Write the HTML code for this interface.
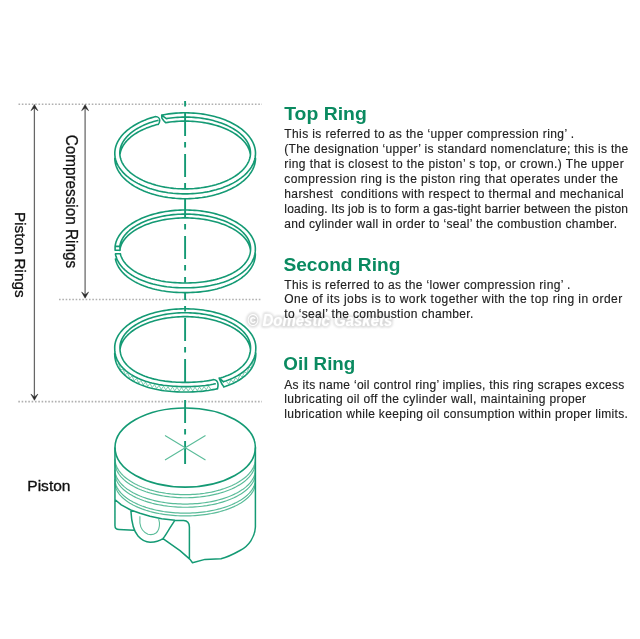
<!DOCTYPE html>
<html><head><meta charset="utf-8"><style>
html,body{margin:0;padding:0;background:#fff;}
svg{display:block;will-change:transform;}
text{font-family:"Liberation Sans",sans-serif;}
</style></head><body>
<svg width="640" height="639" viewBox="0 0 640 639">
<defs><filter id="wmblur" x="-10%" y="-30%" width="120%" height="160%"><feGaussianBlur stdDeviation="0.8"/></filter></defs>
<rect width="640" height="639" fill="#fff"/>
<line x1="18.5" y1="104.2" x2="262" y2="104.2" stroke="#b0b0b0" stroke-width="1.6" stroke-dasharray="1.6 1.73"/>
<line x1="59.0" y1="299.5" x2="262" y2="299.5" stroke="#b0b0b0" stroke-width="1.6" stroke-dasharray="1.6 1.73"/>
<line x1="18.3" y1="401.6" x2="262" y2="401.6" stroke="#b0b0b0" stroke-width="1.6" stroke-dasharray="1.6 1.73"/>
<line x1="34.4" y1="107.5" x2="34.4" y2="397.3" stroke="#666" stroke-width="1.25"/>
<path d="M34.4,104.5 L30.9,110.7 L34.4,107.9 L37.9,110.7 Z" fill="#2a2a2a" stroke="#2a2a2a" stroke-width="0.5" stroke-linejoin="round"/>
<path d="M34.4,400.3 L30.9,394.1 L34.4,396.90000000000003 L37.9,394.1 Z" fill="#2a2a2a" stroke="#2a2a2a" stroke-width="0.5" stroke-linejoin="round"/>
<line x1="85.1" y1="107.5" x2="85.1" y2="295.2" stroke="#666" stroke-width="1.25"/>
<path d="M85.1,104.5 L81.6,110.7 L85.1,107.9 L88.6,110.7 Z" fill="#2a2a2a" stroke="#2a2a2a" stroke-width="0.5" stroke-linejoin="round"/>
<path d="M85.1,298.2 L81.6,292.0 L85.1,294.8 L88.6,292.0 Z" fill="#2a2a2a" stroke="#2a2a2a" stroke-width="0.5" stroke-linejoin="round"/>
<path d="M185.15,193.90 L182.68,193.87 L180.21,193.80 L177.75,193.67 L175.29,193.50 L172.85,193.28 L170.42,193.00 L168.01,192.68 L165.63,192.31 L163.26,191.89 L160.93,191.42 L158.62,190.91 L156.35,190.35 L154.11,189.74 L151.91,189.09 L149.75,188.39 L147.64,187.65 L145.57,186.87 L143.55,186.05 L141.58,185.19 L139.67,184.29 L137.81,183.35 L136.01,182.37 L134.27,181.35 L132.60,180.31 L130.98,179.23 L129.44,178.11 L127.97,176.97 L126.56,175.80 L125.23,174.60 L123.97,173.37 L122.79,172.12 L121.68,170.84 L120.65,169.55 L119.71,168.23 L118.84,166.89 L118.06,165.54 L117.35,164.18 L116.74,162.80 L116.20,161.40 L115.75,160.00 L115.39,158.59 L115.11,157.18 L114.92,155.76 L114.82,154.33 L114.80,152.91 L114.87,151.48 L115.03,150.06 L115.28,148.64 L115.61,147.23 L116.02,145.82 L116.52,144.43 L117.11,143.04 L117.78,141.67 L118.53,140.31 L119.37,138.97 L120.29,137.65 L121.28,136.34 L122.36,135.06 L123.51,133.80 L124.74,132.56 L126.05,131.35 L127.43,130.17 L128.88,129.02 L130.39,127.89 L131.98,126.80 L133.63,125.74 L135.35,124.71 L137.12,123.72 L138.96,122.76 L140.85,121.85 L142.80,120.97 L144.80,120.13 L146.85,119.34 L148.95,118.58 L151.09,117.87 L153.28,117.20 L155.50,116.58 M161.70,115.12 L164.05,114.67 L166.42,114.26 L168.81,113.91 L171.23,113.60 L173.66,113.34 L176.11,113.14 L178.57,112.98 L181.04,112.87 L183.51,112.81 L185.98,112.80 L188.45,112.84 L190.92,112.94 L193.38,113.08 L195.84,113.27 L198.27,113.51 L200.70,113.80 L203.10,114.14 L205.48,114.53 L207.83,114.97 L210.16,115.45 L212.46,115.98 L214.72,116.56 L216.95,117.18 L219.13,117.84 L221.28,118.56 L223.38,119.31 L225.43,120.11 L227.43,120.94 L229.38,121.82 L231.28,122.73 L233.12,123.69 L234.90,124.68 L236.62,125.70 L238.27,126.76 L239.86,127.86 L241.38,128.98 L242.83,130.14 L244.21,131.32 L245.52,132.53 L246.75,133.77 L247.91,135.03 L248.99,136.31 L249.99,137.62 L250.91,138.94 L251.75,140.28 L252.50,141.64 L253.17,143.01 L253.76,144.40 L254.27,145.79 L254.69,147.20 L255.02,148.61 L255.26,150.03 L255.42,151.45 L255.50,152.88 L255.48,154.30 L255.38,155.73 L255.19,157.15 L254.92,158.57 L254.55,159.98 L254.11,161.38 L253.57,162.77 L252.96,164.15 L252.26,165.52 L251.47,166.87 L250.61,168.21 L249.66,169.53 L248.63,170.82 L247.53,172.10 L246.35,173.35 L245.09,174.58 L243.76,175.78 L242.35,176.95 L240.88,178.10 L239.33,179.21 L237.72,180.30 L236.05,181.34 L234.31,182.36 L232.51,183.34 L230.65,184.28 L228.73,185.18 L226.77,186.04 L224.75,186.87 L222.68,187.65 L220.56,188.39 L218.40,189.08 L216.20,189.74 L213.96,190.34 L211.69,190.90 L209.38,191.42 L207.05,191.89 L204.68,192.31 L202.29,192.68 L199.88,193.00 L197.46,193.27 L195.01,193.50 L192.56,193.67 L190.09,193.80 L187.62,193.87 L185.15,193.90 M185.15,188.90 L182.85,188.88 L180.56,188.81 L178.27,188.70 L175.98,188.55 L173.71,188.35 L171.46,188.10 L169.22,187.82 L167.00,187.49 L164.80,187.12 L162.63,186.70 L160.49,186.25 L158.37,185.75 L156.29,185.21 L154.25,184.63 L152.24,184.02 L150.28,183.36 L148.35,182.67 L146.48,181.94 L144.65,181.17 L142.87,180.37 L141.14,179.54 L139.47,178.67 L137.86,177.77 L136.30,176.85 L134.80,175.89 L133.37,174.90 L132.00,173.89 L130.69,172.85 L129.46,171.78 L128.29,170.69 L127.19,169.58 L126.16,168.45 L125.21,167.30 L124.33,166.14 L123.53,164.95 L122.80,163.76 L122.15,162.54 L121.58,161.32 L121.09,160.09 L120.67,158.85 L120.34,157.60 L120.08,156.34 L119.91,155.08 L119.82,153.82 L119.80,152.56 L119.87,151.29 L120.02,150.03 L120.25,148.78 L120.56,147.53 L120.95,146.28 L121.42,145.05 L121.97,143.82 L122.60,142.60 L123.30,141.40 L124.09,140.21 L124.94,139.04 L125.87,137.89 L126.88,136.75 L127.95,135.63 L129.10,134.54 L130.32,133.47 L131.60,132.42 L132.95,131.40 L134.37,130.40 L135.85,129.44 L137.39,128.50 L138.98,127.59 L140.64,126.71 L142.35,125.87 L144.11,125.06 L145.93,124.29 L147.79,123.55 L149.70,122.84 L151.65,122.18 L153.65,121.55 L155.68,120.96 L157.75,120.41 M166.40,118.61 L168.60,118.27 L170.83,117.97 L173.07,117.72 L175.33,117.51 L177.59,117.34 L179.87,117.22 L182.16,117.14 L184.44,117.10 L186.73,117.11 L189.02,117.16 L191.30,117.26 L193.58,117.40 L195.84,117.58 L198.09,117.81 L200.33,118.08 L202.54,118.40 L204.74,118.75 L206.91,119.15 L209.06,119.59 L211.17,120.07 L213.25,120.59 L215.30,121.15 L217.31,121.75 L219.29,122.39 L221.22,123.06 L223.10,123.78 L224.94,124.52 L226.73,125.31 L228.47,126.12 L230.16,126.97 L231.79,127.86 L233.37,128.77 L234.88,129.71 L236.34,130.68 L237.73,131.68 L239.05,132.70 L240.32,133.75 L241.51,134.83 L242.63,135.92 L243.69,137.04 L244.67,138.17 L245.58,139.33 L246.41,140.50 L247.17,141.69 L247.85,142.89 L248.46,144.10 L248.99,145.32 L249.44,146.55 L249.81,147.79 L250.10,149.04 L250.31,150.29 L250.45,151.55 L250.50,152.81 L250.47,154.06 L250.36,155.32 L250.18,156.57 L249.91,157.82 L249.56,159.06 L249.13,160.30 L248.63,161.53 L248.05,162.74 L247.39,163.95 L246.65,165.14 L245.84,166.31 L244.95,167.47 L244.00,168.61 L242.96,169.74 L241.86,170.84 L240.69,171.92 L239.45,172.97 L238.14,174.01 L236.77,175.01 L235.34,175.99 L233.84,176.94 L232.28,177.87 L230.67,178.76 L229.00,179.62 L227.28,180.45 L225.50,181.24 L223.68,182.00 L221.80,182.72 L219.89,183.41 L217.93,184.06 L215.93,184.67 L213.89,185.24 L211.82,185.78 L209.71,186.27 L207.57,186.72 L205.41,187.13 L203.22,187.50 L201.01,187.83 L198.78,188.11 L196.54,188.35 L194.28,188.55 L192.00,188.70 L189.72,188.81 L187.44,188.88 L185.15,188.90 M255.50,158.15 L255.46,159.57 L255.33,160.98 L255.11,162.39 L254.82,163.79 L254.43,165.19 L253.96,166.58 L253.41,167.96 L252.77,169.33 L252.06,170.68 L251.26,172.02 L250.38,173.34 L249.42,174.64 L248.38,175.93 L247.27,177.19 L246.07,178.42 L244.81,179.64 L243.47,180.83 L242.06,181.98 L240.59,183.12 L239.04,184.22 L237.43,185.28 L235.76,186.32 L234.02,187.32 L232.22,188.28 L230.37,189.21 L228.46,190.10 L226.50,190.96 L224.49,191.77 L222.43,192.54 L220.32,193.27 L218.18,193.95 L215.99,194.60 L213.76,195.19 L211.50,195.75 L209.21,196.25 L206.89,196.72 L204.54,197.13 L202.17,197.50 L199.78,197.81 L197.37,198.08 L194.94,198.31 L192.50,198.48 L190.06,198.60 L187.61,198.68 L185.15,198.70 L182.69,198.68 L180.24,198.60 L177.80,198.48 L175.36,198.31 L172.93,198.08 L170.52,197.81 L168.13,197.50 L165.76,197.13 L163.41,196.72 L161.09,196.25 L158.80,195.75 L156.54,195.19 L154.31,194.60 L152.12,193.95 L149.97,193.27 L147.87,192.54 L145.81,191.77 L143.80,190.96 L141.84,190.10 L139.93,189.21 L138.08,188.28 L136.28,187.32 L134.54,186.32 L132.87,185.28 L131.26,184.22 L129.71,183.12 L128.24,181.98 L126.83,180.83 L125.49,179.64 L124.23,178.43 L123.03,177.19 L121.92,175.93 L120.88,174.64 L119.92,173.34 L119.04,172.02 L118.24,170.68 L117.53,169.33 L116.89,167.96 L116.34,166.58 L115.87,165.19 L115.48,163.79 L115.19,162.39 L114.97,160.98 L114.84,159.57 L114.80,158.15 M119.90,155.00 L120.07,153.74 L120.32,152.49 L120.65,151.24 L121.06,150.00 L121.54,148.76 L122.11,147.54 L122.75,146.33 L123.48,145.13 L124.27,143.94 L125.15,142.78 L126.09,141.63 L127.11,140.50 L128.21,139.39 L129.37,138.30 L130.60,137.23 L131.90,136.19 L133.26,135.17 L134.69,134.19 L136.18,133.23 L137.73,132.30 L139.34,131.39 L141.01,130.53 L142.73,129.69 L144.51,128.89 L146.33,128.12 L148.20,127.39 L150.12,126.69 L152.08,126.04 L154.08,125.42 L156.12,124.84 L158.20,124.29 M165.60,122.74 L167.79,122.39 L170.01,122.08 L172.24,121.81 L174.49,121.58 L176.75,121.40 L179.02,121.26 L181.30,121.16 L183.58,121.11 L185.87,121.10 L188.15,121.14 L190.43,121.22 L192.71,121.34 L194.97,121.51 L197.23,121.72 L199.47,121.97 L201.69,122.27 L203.89,122.61 L206.07,122.99 L208.22,123.41 L210.34,123.87 L212.44,124.38 L214.50,124.92 L216.52,125.51 L218.51,126.13 L220.45,126.79 L222.35,127.48 L224.21,128.22 L226.02,128.99 L227.77,129.79 L229.48,130.62 L231.13,131.49 L232.73,132.39 L234.27,133.32 L235.74,134.28 L237.16,135.26 L238.51,136.28 L239.80,137.31 L241.02,138.38 L242.17,139.46 L243.25,140.57 L244.26,141.69 L245.20,142.84 L246.06,144.00 L246.86,145.18 L247.57,146.37 L248.21,147.58 L248.77,148.79 L249.25,150.02 L249.66,151.26 L249.98,152.50 L250.23,153.75 L250.40,155.00 M155.5,116.45 C158,116.6 159.8,118.4 159.7,120.5 C159.6,122.4 159.2,123.6 158.2,124.3 M161.7,115.1 L161.9,118.1 L163.75,120.75 L165.6,122.6 M162.2,115.6 L166.4,118.6" fill="none" stroke="#149a74" stroke-width="1.6" stroke-linecap="round" stroke-linejoin="round"/>
<path d="M185.15,287.80 L182.25,287.78 L179.54,287.71 L176.91,287.59 L174.32,287.43 L171.78,287.23 L169.28,286.97 L166.82,286.68 L164.40,286.34 L162.01,285.95 L159.67,285.52 L157.36,285.05 L155.10,284.53 L152.88,283.97 L150.71,283.37 L148.58,282.73 L146.50,282.05 L144.48,281.32 L142.51,280.56 L140.59,279.76 L138.73,278.92 L136.93,278.05 L135.18,277.14 L133.50,276.19 L131.89,275.21 L130.33,274.20 L128.85,273.16 L127.43,272.08 L126.09,270.97 L124.81,269.84 L123.61,268.68 L122.48,267.49 L121.43,266.27 L120.45,265.03 L119.55,263.77 L118.73,262.48 L117.99,261.17 L117.32,259.84 L116.74,258.49 L116.24,257.12 L115.82,255.73 L115.48,254.31 M115.10,246.40 L115.30,245.05 L115.58,243.69 L115.95,242.35 L116.41,241.02 L116.95,239.69 L117.57,238.37 L118.27,237.07 L119.06,235.78 L119.93,234.51 L120.87,233.26 L121.90,232.02 L123.00,230.81 L124.18,229.62 L125.43,228.45 L126.76,227.31 L128.16,226.19 L129.62,225.10 L131.16,224.04 L132.76,223.01 L134.42,222.01 L136.15,221.04 L137.94,220.11 L139.78,219.21 L141.68,218.35 L143.63,217.53 L145.64,216.75 L147.69,216.00 L149.79,215.30 L151.93,214.63 L154.11,214.01 L156.33,213.43 L158.58,212.89 L160.87,212.40 L163.18,211.95 L165.53,211.55 L167.89,211.19 L170.28,210.88 L172.69,210.62 L175.11,210.40 L177.54,210.23 L179.99,210.11 L182.44,210.03 L184.89,210.00 L187.34,210.02 L189.79,210.09 L192.24,210.20 L194.67,210.36 L197.10,210.57 L199.51,210.82 L201.90,211.12 L204.27,211.47 L206.62,211.86 L208.94,212.30 L211.23,212.79 L213.50,213.31 L215.72,213.88 L217.91,214.50 L220.06,215.15 L222.17,215.85 L224.23,216.58 L226.24,217.36 L228.21,218.18 L230.12,219.03 L231.97,219.92 L233.77,220.84 L235.51,221.80 L237.19,222.79 L238.80,223.82 L240.35,224.87 L241.84,225.95 L243.25,227.06 L244.59,228.20 L245.86,229.37 L247.05,230.55 L248.17,231.76 L249.21,232.99 L250.18,234.24 L251.06,235.51 L251.87,236.80 L252.59,238.10 L253.23,239.41 L253.79,240.73 L254.26,242.07 L254.65,243.41 L254.95,244.76 L255.17,246.11 L255.30,247.47 L255.35,248.83 L255.31,250.41 L255.20,251.91 L255.00,253.36 L254.71,254.78 L254.35,256.18 L253.91,257.55 L253.39,258.91 L252.79,260.24 L252.10,261.56 L251.35,262.85 L250.51,264.12 L249.59,265.37 L248.61,266.59 L247.54,267.79 L246.40,268.96 L245.19,270.11 L243.91,271.23 L242.56,272.32 L241.14,273.38 L239.66,274.41 L238.11,275.40 L236.49,276.37 L234.81,277.30 L233.07,278.20 L231.28,279.06 L229.42,279.89 L227.51,280.67 L225.55,281.42 L223.53,282.14 L221.47,282.81 L219.35,283.44 L217.19,284.03 L214.98,284.58 L212.74,285.09 L210.45,285.56 L208.12,285.98 L205.75,286.36 L203.34,286.70 L200.90,286.99 L198.41,287.24 L195.89,287.44 L193.33,287.60 L190.72,287.71 L188.03,287.78 L185.15,287.80 M185.15,283.00 L182.43,282.98 L179.89,282.92 L177.42,282.81 L175.00,282.67 L172.62,282.49 L170.27,282.26 L167.97,281.99 L165.69,281.69 L163.46,281.34 L161.26,280.96 L159.10,280.53 L156.98,280.07 L154.90,279.57 L152.87,279.03 L150.88,278.46 L148.93,277.84 L147.04,277.20 L145.19,276.51 L143.40,275.80 L141.66,275.05 L139.98,274.26 L138.35,273.45 L136.78,272.60 L135.28,271.72 L133.83,270.82 L132.45,269.88 L131.13,268.92 L129.88,267.93 L128.69,266.92 L127.58,265.88 L126.53,264.81 L125.56,263.73 L124.66,262.62 L123.83,261.49 L123.07,260.34 L122.39,259.17 L121.79,257.98 L121.26,256.77 L120.80,255.54 L120.43,254.29 M119.83,246.40 L120.01,245.20 L120.27,244.00 L120.61,242.81 L121.03,241.63 L121.53,240.45 L122.11,239.29 L122.76,238.13 L123.49,236.99 L124.30,235.86 L125.18,234.75 L126.13,233.66 L127.16,232.58 L128.25,231.52 L129.42,230.49 L130.65,229.47 L131.95,228.48 L133.32,227.52 L134.75,226.57 L136.24,225.66 L137.79,224.77 L139.39,223.92 L141.06,223.09 L142.77,222.30 L144.54,221.53 L146.36,220.80 L148.23,220.10 L150.14,219.44 L152.10,218.82 L154.09,218.23 L156.12,217.67 L158.19,217.16 L160.29,216.68 L162.42,216.24 L164.58,215.84 L166.77,215.49 L168.98,215.17 L171.20,214.89 L173.45,214.66 L175.70,214.46 L177.97,214.31 L180.25,214.20 L182.54,214.13 L184.82,214.10 L187.11,214.12 L189.40,214.17 L191.68,214.27 L193.95,214.41 L196.21,214.60 L198.46,214.82 L200.69,215.09 L202.90,215.39 L205.10,215.74 L207.26,216.13 L209.40,216.55 L211.51,217.02 L213.59,217.52 L215.63,218.06 L217.64,218.64 L219.61,219.26 L221.53,219.91 L223.41,220.60 L225.24,221.32 L227.03,222.07 L228.76,222.86 L230.44,223.68 L232.06,224.53 L233.63,225.41 L235.14,226.31 L236.58,227.24 L237.97,228.20 L239.28,229.19 L240.54,230.20 L241.72,231.23 L242.84,232.28 L243.88,233.35 L244.86,234.44 L245.76,235.55 L246.58,236.67 L247.34,237.81 L248.01,238.96 L248.61,240.12 L249.13,241.29 L249.57,242.47 L249.94,243.66 L250.22,244.86 L250.43,246.06 L250.55,247.26 L250.60,248.46 L250.57,249.87 L250.46,251.19 L250.27,252.48 L250.01,253.74 L249.68,254.97 L249.27,256.19 L248.78,257.40 L248.22,258.58 L247.58,259.74 L246.88,260.89 L246.10,262.01 L245.25,263.12 L244.32,264.20 L243.33,265.26 L242.27,266.30 L241.15,267.32 L239.95,268.31 L238.69,269.28 L237.37,270.22 L235.98,271.13 L234.54,272.01 L233.03,272.87 L231.47,273.69 L229.85,274.49 L228.17,275.25 L226.44,275.99 L224.66,276.68 L222.83,277.35 L220.95,277.98 L219.02,278.58 L217.05,279.14 L215.03,279.66 L212.98,280.15 L210.88,280.60 L208.74,281.01 L206.57,281.39 L204.36,281.72 L202.12,282.02 L199.84,282.28 L197.52,282.50 L195.17,282.68 L192.78,282.82 L190.34,282.92 L187.83,282.98 L185.15,283.00 M255.35,253.70 L255.31,255.30 L255.19,256.79 L254.98,258.25 L254.69,259.67 L254.33,261.07 L253.88,262.45 L253.35,263.81 L252.74,265.15 L252.05,266.46 L251.28,267.76 L250.43,269.03 L249.51,270.28 L248.51,271.50 L247.43,272.70 L246.29,273.88 L245.06,275.03 L243.77,276.15 L242.41,277.24 L240.98,278.30 L239.48,279.32 L237.92,280.32 L236.29,281.29 L234.60,282.22 L232.84,283.11 L231.03,283.97 L229.16,284.79 L227.24,285.58 L225.26,286.33 L223.23,287.04 L221.15,287.71 L219.02,288.33 L216.85,288.92 L214.63,289.47 L212.37,289.97 L210.06,290.43 L207.72,290.85 L205.34,291.22 L202.92,291.55 L200.46,291.84 L197.96,292.08 L195.43,292.27 L192.84,292.42 L190.21,292.53 L187.49,292.59 L184.54,292.60 L181.73,292.57 L179.05,292.49 L176.44,292.37 L173.87,292.20 L171.35,291.99 L168.87,291.73 L166.43,291.43 L164.02,291.08 L161.66,290.69 L159.33,290.25 L157.04,289.78 L154.79,289.26 L152.59,288.70 L150.43,288.09 L148.32,287.45 L146.26,286.76 L144.25,286.04 L142.30,285.28 L140.40,284.48 L138.55,283.64 L136.76,282.76 L135.03,281.86 L133.37,280.91 L131.76,279.93 L130.22,278.92 L128.75,277.88 L127.35,276.81 L126.01,275.71 L124.75,274.58 L123.56,273.42 L122.44,272.24 L121.39,271.03 L120.42,269.79 L119.53,268.53 L118.71,267.25 L117.97,265.95 L117.32,264.62 L116.74,263.28 L116.24,261.91 L115.82,260.53 L115.48,259.12 M119.80,250.45 L119.97,249.24 L120.22,248.03 L120.55,246.83 L120.96,245.64 L121.44,244.45 L122.01,243.27 L122.66,242.11 L123.38,240.95 L124.19,239.82 L125.06,238.69 L126.01,237.59 L127.04,236.50 L128.14,235.43 L129.31,234.38 L130.54,233.36 L131.85,232.36 L133.22,231.38 L134.66,230.43 L136.16,229.51 L137.71,228.61 L139.33,227.75 L141.01,226.91 L142.74,226.11 L144.52,225.34 L146.36,224.60 L148.24,223.90 L150.17,223.23 L152.14,222.60 L154.15,222.01 L156.20,221.45 L158.29,220.94 L160.41,220.46 L162.56,220.02 L164.73,219.62 L166.94,219.26 L169.16,218.94 L171.41,218.67 L173.68,218.43 L175.95,218.24 L178.24,218.09 L180.54,217.99 L182.84,217.92 L185.15,217.90 L187.46,217.92 L189.76,217.99 L192.06,218.09 L194.35,218.24 L196.62,218.43 L198.89,218.67 L201.14,218.94 L203.36,219.26 L205.57,219.62 L207.74,220.02 L209.89,220.46 L212.01,220.94 L214.10,221.45 L216.15,222.01 L218.16,222.60 L220.13,223.23 L222.06,223.90 L223.94,224.60 L225.78,225.34 L227.56,226.11 L229.29,226.91 L230.97,227.75 L232.59,228.61 L234.14,229.51 L235.64,230.43 L237.08,231.38 L238.45,232.36 L239.76,233.36 L240.99,234.38 L242.16,235.43 L243.26,236.50 L244.29,237.59 L245.24,238.69 L246.11,239.82 L246.92,240.95 L247.64,242.11 L248.29,243.27 L248.86,244.45 L249.34,245.64 L249.75,246.83 L250.08,248.03 L250.33,249.24 L250.50,250.45 M115.10,246.40 L119.83,246.40 L120.13,250.30 L115.10,250.30 Z M115.51,253.80 L120.46,253.80" fill="none" stroke="#149a74" stroke-width="1.6" stroke-linecap="round" stroke-linejoin="round"/>
<path d="M118.50,363.14 L120.75,370.00 L123.00,368.96 L125.25,374.70 L127.50,372.93 L129.75,378.14 L132.00,375.97 L134.25,380.85 L136.50,378.40 L138.75,383.05 L141.00,380.39 L143.25,384.86 L145.50,382.04 L147.75,386.35 L150.00,383.40 L152.25,387.59 L154.50,384.52 L156.75,388.60 L159.00,385.43 L161.25,389.41 L163.50,386.14 L165.75,390.04 L168.00,386.69 L170.25,390.51 L172.50,387.09 L174.75,390.83 L177.00,387.34 L179.25,391.02 L181.50,387.47 L183.75,391.10 L186.00,387.50 L188.25,391.08 L190.50,387.44 L192.75,390.97 L195.00,387.27 L197.25,390.74 L199.50,386.97 L201.75,390.37 L204.00,386.53 L206.25,389.85 L208.50,385.92 L210.75,389.16 M226.50,381.53 L228.75,384.29 L231.00,379.77 L233.25,382.36 L235.50,377.65 L237.75,380.01 L240.00,375.04 L242.25,377.09 L244.50,371.74 L246.75,373.31 L249.00,367.31 L251.25,367.93 L253.50,360.24" fill="none" stroke="#5abc99" stroke-width="0.75" stroke-linejoin="round"/>
<path d="M185.25,386.60 L181.90,386.58 L178.96,386.51 L176.17,386.40 L173.47,386.25 L170.84,386.06 L168.28,385.82 L165.77,385.54 L163.32,385.22 L160.92,384.85 L158.57,384.45 L156.27,384.00 L154.02,383.51 L151.82,382.98 L149.67,382.41 L147.57,381.80 L145.53,381.15 L143.54,380.46 L141.61,379.74 L139.74,378.97 L137.92,378.17 L136.16,377.34 L134.46,376.47 L132.83,375.56 L131.26,374.62 L129.75,373.64 L128.31,372.64 L126.94,371.60 L125.63,370.53 L124.40,369.43 L123.23,368.30 L122.13,367.14 L121.11,365.95 L120.16,364.73 L119.29,363.48 L118.49,362.21 L117.76,360.91 L117.11,359.58 L116.54,358.23 L116.04,356.84 L115.62,355.42 L115.28,353.97 L115.02,352.47 L114.83,350.92 L114.73,349.28 L114.70,347.49 L114.76,346.13 L114.90,344.76 L115.13,343.41 L115.45,342.06 L115.85,340.71 L116.33,339.38 L116.90,338.05 L117.56,336.74 L118.30,335.44 L119.12,334.15 L120.02,332.88 L121.00,331.63 L122.06,330.40 L123.20,329.19 L124.41,328.00 L125.70,326.84 L127.06,325.70 L128.49,324.59 L130.00,323.51 L131.57,322.46 L133.20,321.44 L134.90,320.45 L136.66,319.50 L138.48,318.57 L140.36,317.69 L142.30,316.84 L144.28,316.03 L146.32,315.26 L148.40,314.53 L150.53,313.84 L152.71,313.19 L154.92,312.58 L157.17,312.01 L159.45,311.49 L161.77,311.02 L164.11,310.59 L166.48,310.20 L168.87,309.86 L171.29,309.57 L173.72,309.32 L176.16,309.12 L178.62,308.97 L181.08,308.87 L183.55,308.81 L186.02,308.80 L188.49,308.84 L190.96,308.93 L193.42,309.06 L195.87,309.24 L198.30,309.47 L200.72,309.75 L203.12,310.07 L205.50,310.44 L207.86,310.85 L210.18,311.31 L212.48,311.81 L214.74,312.36 L216.97,312.95 L219.16,313.59 L221.30,314.26 L223.40,314.98 L225.46,315.74 L227.46,316.53 L229.42,317.37 L231.32,318.24 L233.16,319.15 L234.94,320.09 L236.67,321.06 L238.33,322.07 L239.92,323.11 L241.45,324.19 L242.91,325.29 L244.30,326.41 L245.61,327.57 L246.86,328.74 L248.02,329.94 L249.11,331.17 L250.12,332.41 L251.05,333.67 L251.90,334.95 L252.67,336.25 L253.36,337.56 L253.96,338.88 L254.48,340.21 L254.91,341.55 L255.26,342.90 L255.52,344.26 L255.70,345.61 L255.79,346.98 L255.79,348.63 L255.72,350.32 L255.56,351.90 L255.33,353.41 L255.02,354.88 L254.63,356.31 L254.16,357.71 L253.61,359.08 L252.99,360.42 L252.30,361.73 L251.52,363.01 L250.68,364.27 L249.75,365.49 L248.76,366.69 L247.69,367.86 L246.55,369.01 L245.34,370.12 L244.06,371.20 L242.71,372.25 L241.30,373.27 L239.81,374.26 L238.27,375.21 L236.66,376.13 L234.98,377.01 L233.25,377.86 L231.45,378.68 L229.60,379.45 L227.69,380.19 L225.72,380.90 L223.70,381.56 M215.20,383.79 L212.83,384.28 L210.41,384.72 L207.93,385.11 L205.40,385.46 L202.81,385.76 L200.16,386.02 L197.45,386.23 L194.65,386.39 L191.76,386.51 L188.72,386.58 L185.25,386.60 M185.25,382.35 L182.15,382.33 L179.43,382.27 L176.85,382.18 L174.35,382.04 L171.92,381.87 L169.55,381.65 L167.24,381.40 L164.97,381.12 L162.75,380.79 L160.57,380.43 L158.44,380.03 L156.36,379.59 L154.33,379.12 L152.34,378.61 L150.40,378.06 L148.51,377.48 L146.67,376.87 L144.89,376.22 L143.15,375.54 L141.47,374.82 L139.84,374.08 L138.27,373.30 L136.76,372.49 L135.31,371.65 L133.91,370.78 L132.58,369.88 L131.31,368.95 L130.10,368.00 L128.95,367.01 L127.87,366.00 L126.86,364.97 L125.91,363.90 L125.03,362.82 L124.22,361.70 L123.48,360.57 L122.80,359.41 L122.20,358.22 L121.67,357.01 L121.21,355.77 L120.82,354.50 L120.50,353.20 L120.25,351.87 L120.08,350.49 L119.98,349.03 L119.95,347.41 L120.00,346.19 L120.13,344.97 L120.34,343.76 L120.63,342.55 L120.99,341.35 L121.44,340.16 L121.96,338.97 L122.57,337.80 L123.25,336.63 L124.00,335.48 L124.83,334.35 L125.73,333.23 L126.71,332.13 L127.76,331.05 L128.88,329.99 L130.06,328.95 L131.32,327.93 L132.64,326.93 L134.03,325.97 L135.48,325.02 L136.98,324.11 L138.55,323.22 L140.18,322.37 L141.86,321.54 L143.59,320.75 L145.38,319.99 L147.21,319.26 L149.09,318.57 L151.02,317.91 L152.99,317.29 L154.99,316.71 L157.03,316.17 L159.11,315.66 L161.22,315.19 L163.36,314.76 L165.53,314.38 L167.72,314.03 L169.93,313.72 L172.16,313.46 L174.41,313.23 L176.67,313.05 L178.94,312.91 L181.21,312.82 L183.50,312.76 L185.78,312.75 L188.07,312.78 L190.35,312.86 L192.62,312.97 L194.89,313.13 L197.14,313.33 L199.38,313.57 L201.60,313.86 L203.81,314.18 L205.99,314.55 L208.14,314.96 L210.27,315.40 L212.36,315.89 L214.42,316.42 L216.45,316.98 L218.44,317.58 L220.38,318.22 L222.29,318.89 L224.15,319.60 L225.96,320.34 L227.72,321.12 L229.43,321.92 L231.09,322.76 L232.69,323.63 L234.23,324.53 L235.71,325.46 L237.13,326.41 L238.48,327.39 L239.77,328.40 L241.00,329.43 L242.15,330.48 L243.24,331.55 L244.25,332.64 L245.20,333.75 L246.07,334.88 L246.86,336.02 L247.58,337.17 L248.22,338.34 L248.79,339.52 L249.28,340.71 L249.69,341.91 L250.02,343.12 L250.27,344.33 L250.44,345.54 L250.53,346.76 L250.55,348.19 L250.48,349.72 L250.35,351.14 L250.14,352.50 L249.86,353.81 L249.51,355.10 L249.09,356.35 L248.59,357.58 L248.03,358.78 L247.39,359.95 L246.69,361.10 L245.91,362.23 L245.07,363.33 L244.16,364.40 L243.18,365.45 L242.13,366.48 L241.02,367.47 L239.85,368.44 L238.61,369.39 L237.31,370.30 L235.95,371.19 L234.52,372.04 L233.04,372.87 L231.50,373.67 L229.91,374.43 L228.25,375.16 L226.55,375.86 L224.79,376.53 L222.98,377.16 L221.11,377.76 L219.20,378.32 M213.10,379.81 L210.90,380.25 L208.65,380.65 L206.34,381.00 L203.99,381.32 L201.58,381.59 L199.12,381.82 L196.59,382.01 L194.00,382.16 L191.31,382.27 L188.48,382.33 L185.25,382.35 M255.80,353.10 L255.76,354.97 L255.64,356.62 L255.43,358.18 L255.15,359.69 L254.79,361.16 L254.34,362.59 L253.82,363.99 L253.21,365.36 L252.53,366.71 L251.77,368.02 L250.93,369.30 L250.01,370.56 L249.02,371.79 L247.96,372.98 L246.81,374.15 L245.60,375.29 L244.31,376.39 L242.96,377.47 L241.53,378.51 L240.03,379.51 L238.47,380.49 L236.84,381.43 L235.15,382.33 L233.39,383.20 L231.57,384.03 L229.69,384.82 L227.75,385.57 L225.75,386.29 L223.70,386.96 M217.60,388.65 L215.36,389.16 L213.07,389.63 L210.73,390.06 L208.34,390.45 L205.90,390.79 L203.40,391.10 L200.85,391.35 L198.24,391.57 L195.56,391.74 L192.79,391.87 L189.91,391.96 L186.81,392.00 L183.22,391.99 L180.17,391.95 L177.31,391.85 L174.56,391.72 L171.88,391.54 L169.28,391.32 L166.74,391.05 L164.25,390.75 L161.82,390.40 L159.43,390.00 L157.10,389.57 L154.82,389.09 L152.59,388.57 L150.41,388.01 L148.28,387.41 L146.21,386.77 L144.19,386.09 L142.22,385.37 L140.32,384.62 L138.47,383.82 L136.69,382.99 L134.96,382.13 L133.30,381.23 L131.70,380.29 L130.16,379.32 L128.70,378.31 L127.30,377.28 L125.97,376.21 L124.70,375.11 L123.51,373.98 L122.39,372.82 L121.35,371.63 L120.37,370.41 L119.48,369.17 L118.65,367.89 L117.91,366.59 L117.24,365.26 L116.64,363.90 L116.13,362.51 L115.69,361.09 L115.34,359.63 L115.06,358.14 L114.86,356.59 L114.74,354.96 L114.70,353.10 M120.05,349.50 L120.22,348.28 L120.47,347.06 L120.80,345.85 L121.21,344.64 L121.70,343.44 L122.27,342.25 L122.92,341.08 L123.64,339.91 L124.44,338.77 L125.32,337.63 L126.27,336.52 L127.29,335.42 L128.39,334.34 L129.55,333.28 L130.79,332.25 L132.09,331.24 L133.46,330.25 L134.89,329.29 L136.39,328.36 L137.94,327.46 L139.56,326.59 L141.23,325.75 L142.96,324.94 L144.74,324.16 L146.56,323.41 L148.44,322.71 L150.36,322.03 L152.33,321.40 L154.34,320.80 L156.38,320.24 L158.46,319.71 L160.58,319.23 L162.72,318.79 L164.89,318.38 L167.09,318.02 L169.31,317.70 L171.55,317.42 L173.81,317.19 L176.08,316.99 L178.36,316.84 L180.65,316.74 L182.95,316.67 L185.25,316.65 L187.55,316.67 L189.85,316.74 L192.14,316.84 L194.42,316.99 L196.69,317.19 L198.95,317.42 L201.19,317.70 L203.41,318.02 L205.61,318.38 L207.78,318.79 L209.92,319.23 L212.04,319.71 L214.12,320.24 L216.16,320.80 L218.17,321.40 L220.14,322.03 L222.06,322.71 L223.94,323.41 L225.76,324.16 L227.54,324.94 L229.27,325.75 L230.94,326.59 L232.56,327.46 L234.11,328.36 L235.61,329.29 L237.04,330.25 L238.41,331.24 L239.71,332.25 L240.95,333.28 L242.11,334.34 L243.21,335.42 L244.23,336.52 L245.18,337.63 L246.06,338.77 L246.86,339.91 L247.58,341.08 L248.23,342.25 L248.80,343.44 L249.29,344.64 L249.70,345.85 L250.03,347.06 L250.28,348.28 L250.45,349.50 M213.1,379.5 C216,379.6 217.8,381.5 218,384.2 C218.1,386.3 217.8,387.8 217.4,388.8 M219.2,378.1 L220,380.2 L222.1,384.3 L223.7,386.6 M220,378.6 L223.5,381.9" fill="none" stroke="#149a74" stroke-width="1.6" stroke-linecap="round" stroke-linejoin="round"/>
<path d="M185.1,101.00 L185.1,106.50 M185.1,113.00 L185.1,136.00 M185.1,142.00 L185.1,147.50 M185.1,154.00 L185.1,177.00 M185.1,183.00 L185.1,188.50 M185.1,199.00 L185.1,218.00 M185.1,224.00 L185.1,229.50 M185.1,236.00 L185.1,259.00 M185.1,265.00 L185.1,270.50 M185.1,277.00 L185.1,282.80 M185.1,292.70 L185.1,300.00 M185.1,306.00 L185.1,311.50 M185.1,318.00 L185.1,341.00 M185.1,347.00 L185.1,352.50 M185.1,359.00 L185.1,382.00 M185.1,400.00 L185.1,423.00 M185.1,429.00 L185.1,434.50 M185.1,441.00 L185.1,464.00" stroke="#149a74" stroke-width="1.9" fill="none"/>
<path d="M255.40,458.75 L255.36,460.00 L255.23,461.25 L255.02,462.50 L254.72,463.75 L254.33,464.98 L253.87,466.21 L253.31,467.43 L252.68,468.65 L251.96,469.84 L251.17,471.03 L250.29,472.20 L249.33,473.35 L248.30,474.49 L247.18,475.60 L245.99,476.70 L244.73,477.77 L243.40,478.83 L241.99,479.85 L240.52,480.85 L238.98,481.83 L237.37,482.77 L235.70,483.69 L233.97,484.57 L232.17,485.43 L230.32,486.25 L228.42,487.04 L226.46,487.79 L224.46,488.51 L222.40,489.19 L220.30,489.84 L218.16,490.45 L215.97,491.02 L213.75,491.55 L211.50,492.04 L209.21,492.48 L206.89,492.89 L204.55,493.26 L202.18,493.58 L199.80,493.87 L197.39,494.10 L194.97,494.30 L192.54,494.45 L190.10,494.56 L187.65,494.63 L185.20,494.65 L182.75,494.63 L180.30,494.56 L177.86,494.45 L175.43,494.30 L173.01,494.10 L170.60,493.87 L168.22,493.58 L165.85,493.26 L163.51,492.89 L161.19,492.48 L158.90,492.04 L156.65,491.55 L154.43,491.02 L152.24,490.45 L150.10,489.84 L148.00,489.19 L145.94,488.51 L143.94,487.79 L141.98,487.04 L140.08,486.25 L138.23,485.43 L136.43,484.57 L134.70,483.69 L133.03,482.77 L131.42,481.83 L129.88,480.85 L128.41,479.85 L127.00,478.83 L125.67,477.77 L124.41,476.70 L123.22,475.60 L122.10,474.49 L121.07,473.35 L120.11,472.20 L119.23,471.03 L118.44,469.84 L117.72,468.65 L117.09,467.43 L116.53,466.21 L116.07,464.98 L115.68,463.75 L115.38,462.50 L115.17,461.25 L115.04,460.00 L115.00,458.75 M255.40,462.45 L255.36,463.68 L255.23,464.91 L255.02,466.14 L254.72,467.36 L254.33,468.58 L253.87,469.79 L253.31,470.99 L252.68,472.18 L251.96,473.36 L251.17,474.52 L250.29,475.67 L249.33,476.81 L248.30,477.92 L247.18,479.02 L245.99,480.10 L244.73,481.16 L243.40,482.19 L241.99,483.20 L240.52,484.18 L238.98,485.14 L237.37,486.07 L235.70,486.97 L233.97,487.84 L232.17,488.68 L230.32,489.49 L228.42,490.27 L226.46,491.01 L224.46,491.72 L222.40,492.39 L220.30,493.02 L218.16,493.62 L215.97,494.18 L213.75,494.70 L211.50,495.18 L209.21,495.62 L206.89,496.02 L204.55,496.38 L202.18,496.70 L199.80,496.98 L197.39,497.21 L194.97,497.41 L192.54,497.56 L190.10,497.66 L187.65,497.73 L185.20,497.75 L182.75,497.73 L180.30,497.66 L177.86,497.56 L175.43,497.41 L173.01,497.21 L170.60,496.98 L168.22,496.70 L165.85,496.38 L163.51,496.02 L161.19,495.62 L158.90,495.18 L156.65,494.70 L154.43,494.18 L152.24,493.62 L150.10,493.02 L148.00,492.39 L145.94,491.72 L143.94,491.01 L141.98,490.27 L140.08,489.49 L138.23,488.68 L136.43,487.84 L134.70,486.97 L133.03,486.07 L131.42,485.14 L129.88,484.18 L128.41,483.20 L127.00,482.19 L125.67,481.16 L124.41,480.10 L123.22,479.02 L122.10,477.92 L121.07,476.81 L120.11,475.67 L119.23,474.52 L118.44,473.36 L117.72,472.18 L117.09,470.99 L116.53,469.79 L116.07,468.58 L115.68,467.36 L115.38,466.14 L115.17,464.91 L115.04,463.68 L115.00,462.45 M255.40,469.65 L255.36,470.85 L255.23,472.05 L255.02,473.25 L254.72,474.44 L254.33,475.62 L253.87,476.80 L253.31,477.97 L252.68,479.13 L251.96,480.28 L251.17,481.42 L250.29,482.54 L249.33,483.64 L248.30,484.73 L247.18,485.80 L245.99,486.85 L244.73,487.88 L243.40,488.89 L241.99,489.87 L240.52,490.83 L238.98,491.76 L237.37,492.67 L235.70,493.55 L233.97,494.40 L232.17,495.21 L230.32,496.00 L228.42,496.76 L226.46,497.48 L224.46,498.17 L222.40,498.82 L220.30,499.44 L218.16,500.02 L215.97,500.57 L213.75,501.08 L211.50,501.55 L209.21,501.98 L206.89,502.37 L204.55,502.72 L202.18,503.03 L199.80,503.30 L197.39,503.53 L194.97,503.72 L192.54,503.86 L190.10,503.97 L187.65,504.03 L185.20,504.05 L182.75,504.03 L180.30,503.97 L177.86,503.86 L175.43,503.72 L173.01,503.53 L170.60,503.30 L168.22,503.03 L165.85,502.72 L163.51,502.37 L161.19,501.98 L158.90,501.55 L156.65,501.08 L154.43,500.57 L152.24,500.02 L150.10,499.44 L148.00,498.82 L145.94,498.17 L143.94,497.48 L141.98,496.76 L140.08,496.00 L138.23,495.21 L136.43,494.40 L134.70,493.55 L133.03,492.67 L131.42,491.76 L129.88,490.83 L128.41,489.87 L127.00,488.89 L125.67,487.88 L124.41,486.85 L123.22,485.80 L122.10,484.73 L121.07,483.64 L120.11,482.54 L119.23,481.42 L118.44,480.28 L117.72,479.13 L117.09,477.97 L116.53,476.80 L116.07,475.62 L115.68,474.44 L115.38,473.25 L115.17,472.05 L115.04,470.85 L115.00,469.65 M255.40,473.25 L255.36,474.44 L255.23,475.62 L255.02,476.80 L254.72,477.98 L254.33,479.15 L253.87,480.32 L253.31,481.48 L252.68,482.62 L251.96,483.76 L251.17,484.88 L250.29,485.99 L249.33,487.08 L248.30,488.15 L247.18,489.21 L245.99,490.25 L244.73,491.27 L243.40,492.26 L241.99,493.23 L240.52,494.18 L238.98,495.10 L237.37,496.00 L235.70,496.87 L233.97,497.71 L232.17,498.52 L230.32,499.30 L228.42,500.04 L226.46,500.76 L224.46,501.44 L222.40,502.08 L220.30,502.69 L218.16,503.27 L215.97,503.81 L213.75,504.31 L211.50,504.77 L209.21,505.20 L206.89,505.59 L204.55,505.93 L202.18,506.24 L199.80,506.51 L197.39,506.73 L194.97,506.92 L192.54,507.06 L190.10,507.17 L187.65,507.23 L185.20,507.25 L182.75,507.23 L180.30,507.17 L177.86,507.06 L175.43,506.92 L173.01,506.73 L170.60,506.51 L168.22,506.24 L165.85,505.93 L163.51,505.59 L161.19,505.20 L158.90,504.77 L156.65,504.31 L154.43,503.81 L152.24,503.27 L150.10,502.69 L148.00,502.08 L145.94,501.44 L143.94,500.76 L141.98,500.04 L140.08,499.30 L138.23,498.52 L136.43,497.71 L134.70,496.87 L133.03,496.00 L131.42,495.10 L129.88,494.18 L128.41,493.23 L127.00,492.26 L125.67,491.27 L124.41,490.25 L123.22,489.21 L122.10,488.15 L121.07,487.08 L120.11,485.99 L119.23,484.88 L118.44,483.76 L117.72,482.62 L117.09,481.48 L116.53,480.32 L116.07,479.15 L115.68,477.98 L115.38,476.80 L115.17,475.62 L115.04,474.44 L115.00,473.25 M255.40,479.35 L255.36,480.53 L255.23,481.71 L255.02,482.88 L254.72,484.05 L254.33,485.22 L253.87,486.38 L253.31,487.53 L252.68,488.67 L251.96,489.79 L251.17,490.91 L250.29,492.01 L249.33,493.10 L248.30,494.17 L247.18,495.22 L245.99,496.25 L244.73,497.26 L243.40,498.25 L241.99,499.22 L240.52,500.16 L238.98,501.08 L237.37,501.97 L235.70,502.83 L233.97,503.66 L232.17,504.47 L230.32,505.24 L228.42,505.98 L226.46,506.69 L224.46,507.37 L222.40,508.01 L220.30,508.62 L218.16,509.19 L215.97,509.73 L213.75,510.23 L211.50,510.69 L209.21,511.11 L206.89,511.50 L204.55,511.84 L202.18,512.15 L199.80,512.41 L197.39,512.64 L194.97,512.82 L192.54,512.96 L190.10,513.07 L187.65,513.13 L185.20,513.15 L182.75,513.13 L180.30,513.07 L177.86,512.96 L175.43,512.82 L173.01,512.64 L170.60,512.41 L168.22,512.15 L165.85,511.84 L163.51,511.50 L161.19,511.11 L158.90,510.69 L156.65,510.23 L154.43,509.73 L152.24,509.19 L150.10,508.62 L148.00,508.01 L145.94,507.37 L143.94,506.69 L141.98,505.98 L140.08,505.24 L138.23,504.47 L136.43,503.66 L134.70,502.83 L133.03,501.97 L131.42,501.08 L129.88,500.16 L128.41,499.22 L127.00,498.25 L125.67,497.26 L124.41,496.25 L123.22,495.22 L122.10,494.17 L121.07,493.10 L120.11,492.01 L119.23,490.91 L118.44,489.79 L117.72,488.67 L117.09,487.53 L116.53,486.38 L116.07,485.22 L115.68,484.05 L115.38,482.88 L115.17,481.71 L115.04,480.53 L115.00,479.35 M255.40,482.65 L255.36,483.81 L255.23,484.97 L255.02,486.13 L254.72,487.28 L254.33,488.43 L253.87,489.57 L253.31,490.71 L252.68,491.83 L251.96,492.94 L251.17,494.04 L250.29,495.12 L249.33,496.19 L248.30,497.25 L247.18,498.28 L245.99,499.30 L244.73,500.30 L243.40,501.27 L241.99,502.22 L240.52,503.15 L238.98,504.05 L237.37,504.93 L235.70,505.78 L233.97,506.60 L232.17,507.40 L230.32,508.16 L228.42,508.89 L226.46,509.59 L224.46,510.26 L222.40,510.89 L220.30,511.49 L218.16,512.05 L215.97,512.58 L213.75,513.07 L211.50,513.53 L209.21,513.94 L206.89,514.32 L204.55,514.66 L202.18,514.96 L199.80,515.22 L197.39,515.44 L194.97,515.63 L192.54,515.77 L190.10,515.87 L187.65,515.93 L185.20,515.95 L182.75,515.93 L180.30,515.87 L177.86,515.77 L175.43,515.63 L173.01,515.44 L170.60,515.22 L168.22,514.96 L165.85,514.66 L163.51,514.32 L161.19,513.94 L158.90,513.53 L156.65,513.07 L154.43,512.58 L152.24,512.05 L150.10,511.49 L148.00,510.89 L145.94,510.26 L143.94,509.59 L141.98,508.89 L140.08,508.16 L138.23,507.40 L136.43,506.60 L134.70,505.78 L133.03,504.93 L131.42,504.05 L129.88,503.15 L128.41,502.22 L127.00,501.27 L125.67,500.30 L124.41,499.30 L123.22,498.28 L122.10,497.25 L121.07,496.19 L120.11,495.12 L119.23,494.04 L118.44,492.94 L117.72,491.83 L117.09,490.71 L116.53,489.57 L116.07,488.43 L115.68,487.28 L115.38,486.13 L115.17,484.97 L115.04,483.81 L115.00,482.65" fill="none" stroke="#5abc99" stroke-width="1.2"/>
<ellipse cx="185.2" cy="447.55" rx="70.2" ry="39.6" fill="none" stroke="#149a74" stroke-width="1.6"/>
<path d="M165,435.5 L205.5,460 M165,460 L205.5,435.5" stroke="#5abc99" stroke-width="1.1" fill="none"/>
<path d="M114.95,447.5 L114.95,525.5 Q114.95,529.5 119,529.6 L134,530.3 M255.4,447.5 L255.4,527 C254.8,537 249,546 240,550.5 C232,555 226,557.5 221,558.7 L205,559.4 L192.5,562.8 L190,559.4 L180,550.6 L163,538.6 M189.4,558.8 L189.4,527 Q189.2,521 183.6,520.6 L175,520.2 L161.7,518.7 L150,516.2 L140,513.3 L130.7,510 L121.3,504.9 L115.2,499.7 M130.9,510.9 C131.5,522 133.5,531 138,536 C142,540.5 147,542.3 150.5,542.2 C156,542 160,540.5 163,538.6 C166,535 168,531 171.1,526.1 L175,520.2" fill="none" stroke="#149a74" stroke-width="1.5" stroke-linejoin="round"/>
<path d="M139.9,516.3 L139.9,523 C140.5,528 143,532 148,534.3 C151,535 154,534.5 156,533 C159,530.5 159.6,526 159.5,523 L158.7,519" fill="none" stroke="#5abc99" stroke-width="1.1"/>
<text x="247.3" y="325.6" font-family="Liberation Sans" font-weight="bold" font-style="italic" font-size="15.6" textLength="145" lengthAdjust="spacingAndGlyphs" fill="#fff" stroke="#c2c2c2" stroke-width="2.4" stroke-linejoin="round" paint-order="stroke" filter="url(#wmblur)">© Domestic Gaskets</text>
<text x="247.3" y="325.6" font-family="Liberation Sans" font-weight="bold" font-style="italic" font-size="15.6" textLength="145" lengthAdjust="spacingAndGlyphs" fill="#fff">© Domestic Gaskets</text>
<text x="284.2" y="120.2" font-family="Liberation Sans" font-weight="bold" font-size="19" fill="#0a8a60" textLength="82.6" lengthAdjust="spacingAndGlyphs">Top Ring</text>
<text x="284.3" y="138.2" font-family="Liberation Sans" font-size="12.0" fill="#222222" stroke="#222222" stroke-width="0.15" textLength="289.8" lengthAdjust="spacing">This is referred to as the ‘upper compression ring’ .</text>
<text x="284.3" y="153.1" font-family="Liberation Sans" font-size="12.0" fill="#222222" stroke="#222222" stroke-width="0.15" textLength="344.0" lengthAdjust="spacing">(The designation ‘upper’ is standard nomenclature; this is the</text>
<text x="284.3" y="168.0" font-family="Liberation Sans" font-size="12.0" fill="#222222" stroke="#222222" stroke-width="0.15" textLength="339.4" lengthAdjust="spacing">ring that is closest to the piston’ s top, or crown.) The upper</text>
<text x="284.3" y="182.95" font-family="Liberation Sans" font-size="12.0" fill="#222222" stroke="#222222" stroke-width="0.15" textLength="333.7" lengthAdjust="spacing">compression ring is the piston ring that operates under the</text>
<text x="284.3" y="197.9" font-family="Liberation Sans" font-size="12.0" fill="#222222" stroke="#222222" stroke-width="0.15" textLength="339.4" lengthAdjust="spacing">harshest  conditions with respect to thermal and mechanical</text>
<text x="284.3" y="212.8" font-family="Liberation Sans" font-size="12.0" fill="#222222" stroke="#222222" stroke-width="0.15" textLength="343.7" lengthAdjust="spacing">loading. Its job is to form a gas-tight barrier between the piston</text>
<text x="284.3" y="227.7" font-family="Liberation Sans" font-size="12.0" fill="#222222" stroke="#222222" stroke-width="0.15" textLength="332.8" lengthAdjust="spacing">and cylinder wall in order to ‘seal’ the combustion chamber.</text>
<text x="283.4" y="270.5" font-family="Liberation Sans" font-weight="bold" font-size="19" fill="#0a8a60" textLength="117.0" lengthAdjust="spacingAndGlyphs">Second Ring</text>
<text x="284.3" y="288.6" font-family="Liberation Sans" font-size="12.0" fill="#222222" stroke="#222222" stroke-width="0.15" textLength="286.0" lengthAdjust="spacing">This is referred to as the ‘lower compression ring’ .</text>
<text x="284.3" y="303.4" font-family="Liberation Sans" font-size="12.0" fill="#222222" stroke="#222222" stroke-width="0.15" textLength="337.9" lengthAdjust="spacing">One of its jobs is to work together with the top ring in order</text>
<text x="284.3" y="318.3" font-family="Liberation Sans" font-size="12.0" fill="#222222" stroke="#222222" stroke-width="0.15" textLength="189.1" lengthAdjust="spacing">to ‘seal’ the combustion chamber.</text>
<text x="283.3" y="370.3" font-family="Liberation Sans" font-weight="bold" font-size="19" fill="#0a8a60" textLength="72.0" lengthAdjust="spacingAndGlyphs">Oil Ring</text>
<text x="284.3" y="388.5" font-family="Liberation Sans" font-size="12.0" fill="#222222" stroke="#222222" stroke-width="0.15" textLength="339.9" lengthAdjust="spacing">As its name ‘oil control ring’ implies, this ring scrapes excess</text>
<text x="284.3" y="403.3" font-family="Liberation Sans" font-size="12.0" fill="#222222" stroke="#222222" stroke-width="0.15" textLength="301.8" lengthAdjust="spacing">lubricating oil off the cylinder wall, maintaining proper</text>
<text x="284.3" y="418.0" font-family="Liberation Sans" font-size="12.0" fill="#222222" stroke="#222222" stroke-width="0.15" textLength="343.6" lengthAdjust="spacing">lubrication while keeping oil consumption within proper limits.</text>
<text transform="translate(15.1,212.0) rotate(90)" font-family="Liberation Sans" font-size="14.6" fill="#111" stroke="#111" stroke-width="0.3" textLength="85.6" lengthAdjust="spacingAndGlyphs">Piston Rings</text>
<text transform="translate(65.9,134.7) rotate(90)" font-family="Liberation Sans" font-size="16" fill="#111" stroke="#111" stroke-width="0.3" textLength="133.4" lengthAdjust="spacingAndGlyphs">Compression Rings</text>
<text x="27.3" y="490.6" font-family="Liberation Sans" font-size="14.1" fill="#111" stroke="#111" stroke-width="0.3" textLength="43.2" lengthAdjust="spacingAndGlyphs">Piston</text>
</svg>
</body></html>
